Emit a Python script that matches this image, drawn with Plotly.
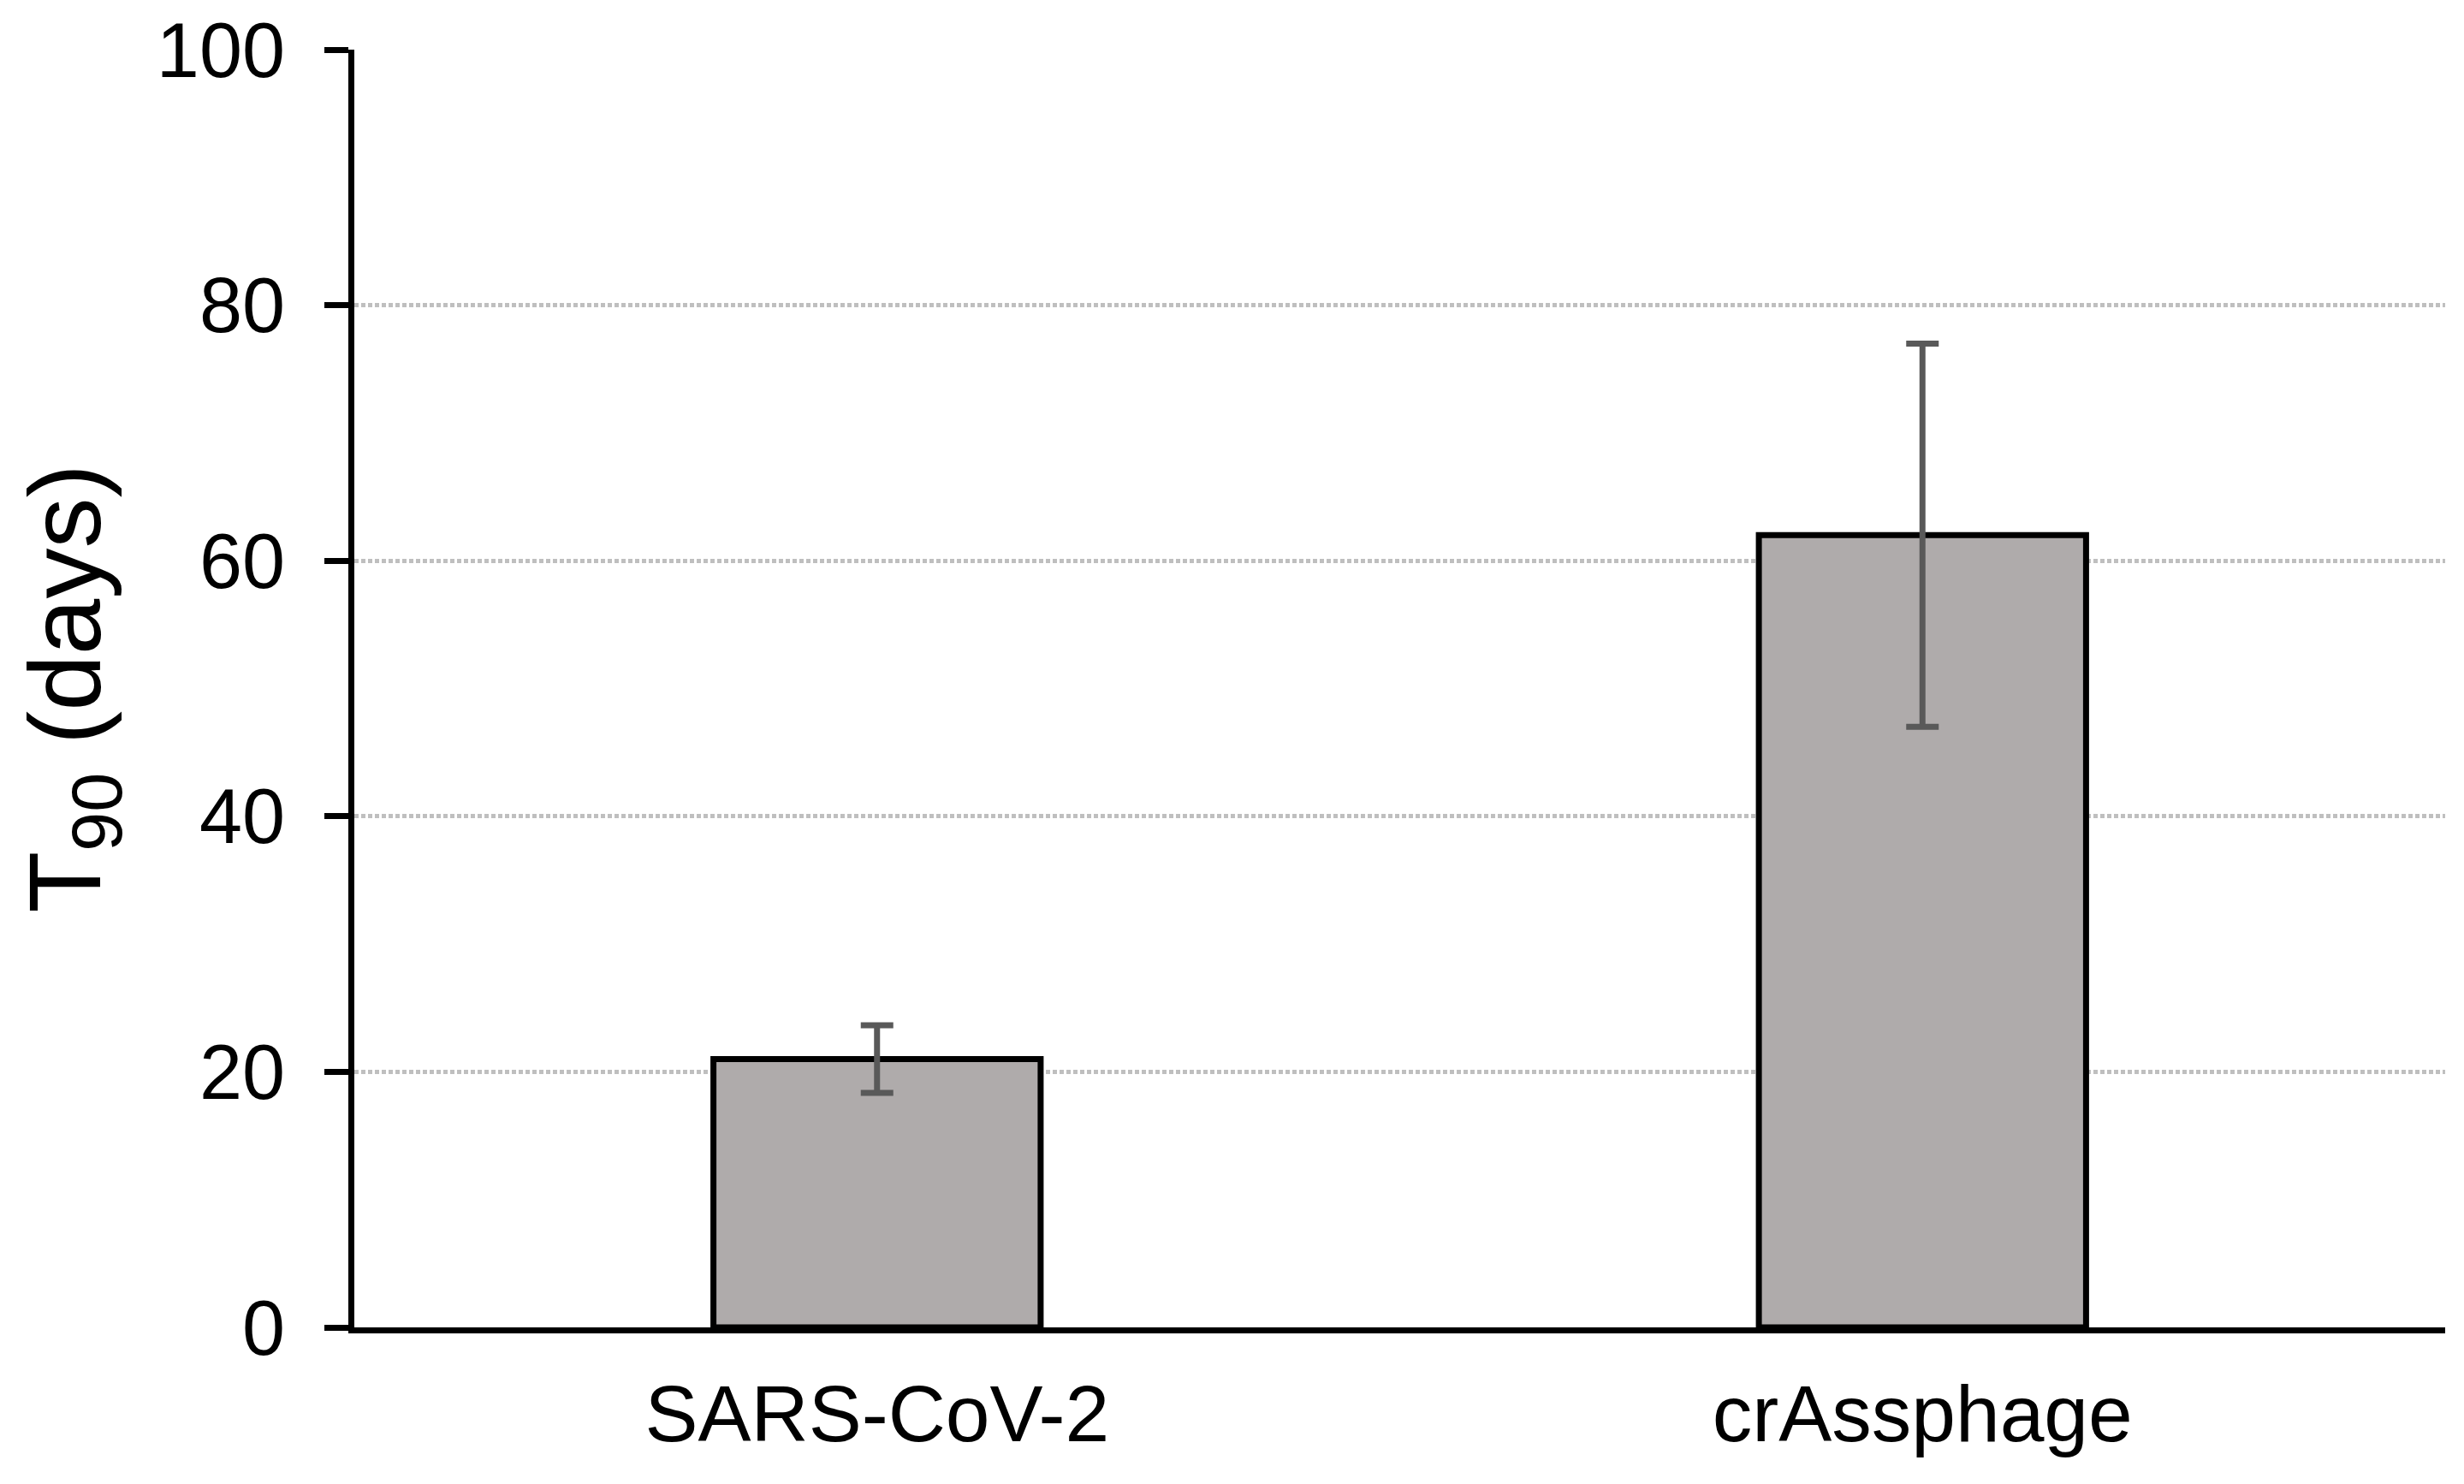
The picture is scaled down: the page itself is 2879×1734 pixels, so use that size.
import plotly.graph_objects as go

categories = ["SARS-CoV-2", "crAssphage"]
t90_values = [21.0, 62.0]
t90_errors = [2.65, 15.0]
y_ticks = [0, 20, 40, 60, 80, 100]

FONT = "Liberation Sans, Arial, sans-serif"

# page body has an 8px default margin; margins below compensate for it
fig = go.Figure()
fig.add_trace(go.Bar(
    x=categories,
    y=t90_values,
    width=0.313,
    marker=dict(color="#AFABAB", line=dict(color="black", width=7)),
    error_y=dict(type="data", array=t90_errors, visible=True,
                 color="#595959", thickness=7, width=19),
    showlegend=False,
))

fig.update_layout(
    width=2879, height=1734,
    margin=dict(l=406, r=30, t=50, b=191, autoexpand=False),
    paper_bgcolor="white", plot_bgcolor="white",
    font=dict(family=FONT, color="black", size=90),
)
fig.update_xaxes(
    type="category",
    showline=True, linecolor="black", linewidth=7,
    ticks="", showgrid=False,
    tickfont=dict(size=93, family=FONT, color="black"),
    ticklabelstandoff=14,
)
fig.update_yaxes(
    range=[0, 100],
    tickvals=y_ticks,
    showline=True, linecolor="black", linewidth=7,
    ticks="outside", ticklen=28, tickwidth=7, tickcolor="black",
    showgrid=True, gridcolor="#BFBFBF", gridwidth=5, griddash="5px,3px",
    zeroline=False,
    tickfont=dict(size=90, family=FONT, color="black"),
    ticklabelstandoff=28,
    title=dict(text="T<sub>90</sub> (days)", font=dict(size=118, family=FONT, color="black"),
               standoff=28),
)

fig.write_html("out.html")
